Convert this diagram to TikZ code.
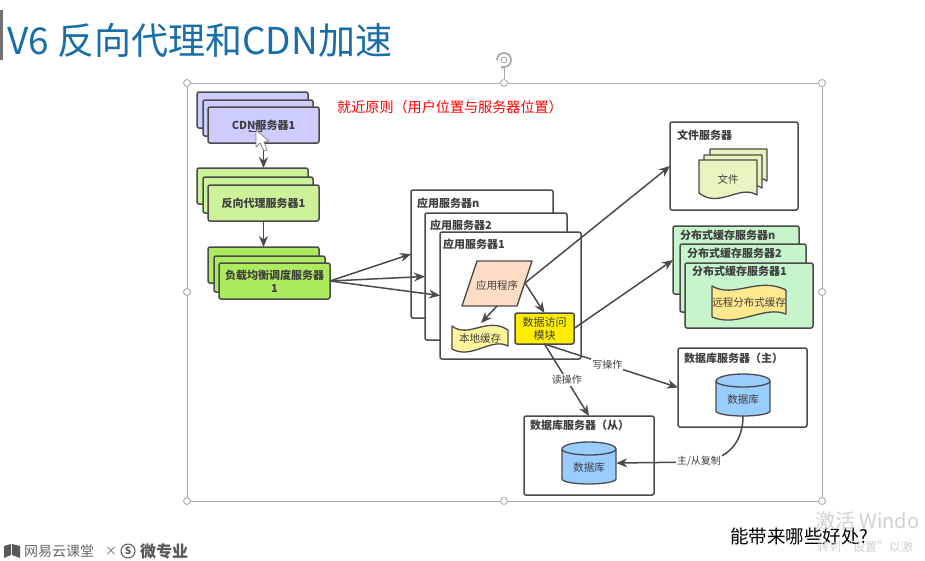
\documentclass[tikz,border=0pt]{standalone}
\usepackage{fontspec}
\setmainfont{Noto Sans CJK SC}
\usetikzlibrary{arrows.meta,calc}
\definecolor{ln}{HTML}{4A4A4A}
\definecolor{tx}{HTML}{404040}
\definecolor{cdnc}{HTML}{CCCCFF}
\definecolor{proxyc}{HTML}{CCF29A}
\definecolor{lbc}{HTML}{AEEA5E}
\definecolor{progc}{HTML}{FFDDC4}
\definecolor{cachec}{HTML}{FFF59A}
\definecolor{dac}{HTML}{FFEE00}
\definecolor{docc}{HTML}{E6F5C0}
\definecolor{distc}{HTML}{C6F5CC}
\definecolor{remc}{HTML}{FFE88E}
\definecolor{dbc}{HTML}{99CCFF}
\definecolor{framec}{HTML}{ABABAB}
\definecolor{titlec}{HTML}{1A6EA8}
\tikzset{
  boxs/.style={draw=ln,line width=1.5pt,rounded corners=2pt,inner sep=0pt,outer sep=0pt,text=tx,align=center,font=\fontsize{11}{13}\selectfont\bfseries},
  hd/.style={anchor=west,inner sep=0pt,text=tx,font=\fontsize{11}{13}\selectfont\bfseries},
  inner/.style={inner sep=0pt,text=tx,font=\fontsize{10.5}{12.5}\selectfont},
  arr/.style={draw=ln,line width=1.5pt,-{Stealth[length=11pt,width=9pt]}},
  lbl/.style={fill=white,inner sep=1pt,text=tx,font=\fontsize{10}{11}\selectfont},
  hand/.style={circle,draw=framec,fill=white,line width=.9pt,minimum size=7pt,inner sep=0pt},
  shape line/.style={draw=ln,line width=1.3pt,line join=round},
}
% name, x1, y1, x2, y2, fill, text
\newcommand{\bx}[7]{\node[boxs,fill=#6,minimum width={(#4-#2)*1pt},minimum height={(#5-#3)*1pt}] (#1) at ({(#2+#4)/2},{(#3+#5)/2}) {#7};}
% tape shape: x1, y1, x2, y2, fill
\newcommand{\tape}[5]{\draw[shape line,fill=#5] (#1,#2+1) .. controls ({#1+(#3-#1)*.3},#2+14) and ({#1+(#3-#1)*.62},#2-9) .. (#3,#2+5) -- (#3,#4-6) .. controls ({#1+(#3-#1)*.7},#4-15) and ({#1+(#3-#1)*.35},#4+8) .. (#1,#4-3) -- cycle;}
% document shape: x1, y1, x2, y2, fill
\newcommand{\docu}[5]{\draw[shape line,fill=#5] (#1,#2) -- (#3,#2) -- (#3,#4-5) .. controls ({#1+(#3-#1)*.7},#4-16) and ({#1+(#3-#1)*.35},#4+9) .. (#1,#4-7) -- cycle;}
% cylinder: name, x1, y1, x2, y2, text
\newcommand{\cyl}[6]{%
  \draw[shape line,fill=dbc] (#2,#3+7) arc[start angle=180,end angle=0,x radius={(#4-#2)/2*1pt},y radius=7pt] -- (#4,#5-5) arc[start angle=0,end angle=-180,x radius={(#4-#2)/2*1pt},y radius=5pt] -- cycle;
  \draw[shape line] (#2,#3+7) arc[start angle=180,end angle=360,x radius={(#4-#2)/2*1pt},y radius=6pt];
  \node[inner,minimum width={(#4-#2)*1pt},minimum height={(#5-#3)*1pt}] (#1) at ({(#2+#4)/2},{(#3+#5)/2}) {};
  \node[inner] (#1t) at ({(#2+#4)/2},{(#3+#5)/2+5}) {#6};}
\begin{document}
\begin{tikzpicture}[x=1pt,y=-1pt]
\useasboundingbox (0,0) rectangle (925,560);
\fill[white] (0,0) rectangle (925,560);
% title
\fill[gray!90!black] (0,10) rectangle (3,60);
\node[anchor=west,inner sep=0pt,text=titlec,font=\fontsize{37}{42}\selectfont] (title) at (7,40) {V6 反向代理和CDN加速};
% selection frame
\draw[framec,line width=.9pt] (187,83) rectangle (822,501);
\node[hand] (h1) at (187,83) {};
\node[hand] (h2) at (504,83) {};
\node[hand] (h3) at (822,83) {};
\node[hand] (h4) at (187,292) {};
\node[hand] (h5) at (822,292) {};
\node[hand] (h6) at (187,501) {};
\node[hand] (h7) at (504,501) {};
\node[hand] (h8) at (822,501) {};
\node[circle,minimum size=14pt,inner sep=0pt] (rot) at (504,60) {};
\draw[framec,line width=.9pt] (rot.south) -- (h2.north);
\draw[framec,line width=1.8pt,-{Latex[length=3.5pt,width=4pt]}] (497,60) arc[start angle=180,end angle=-120,radius=7pt];
\draw[framec,line width=.9pt] (504,60) circle[radius=3pt];
% red note
\node[anchor=west,inner sep=0pt,text=red,font=\fontsize{14.1}{15}\selectfont] (note) at (337,107) {就近原则（用户位置与服务器位置）};
% left stacks
\bx{cdnb}{197}{92}{308}{128}{cdnc}{}
\bx{cdnm}{203}{100}{313}{136}{cdnc}{}
\bx{cdn}{208}{107}{319}{143}{cdnc}{CDN服务器1}
\bx{proxyb}{197}{168}{308}{204}{proxyc}{}
\bx{proxym}{203}{177}{313}{213}{proxyc}{}
\bx{proxy}{208}{185}{319}{221}{proxyc}{反向代理服务器1}
\bx{lbb}{208}{247}{319}{283}{lbc}{}
\bx{lbm}{214}{256}{325}{292}{lbc}{}
\bx{lb}{219}{263}{330}{299}{lbc}{负载均衡调度服务器\\1}
% app servers
\bx{appn}{411}{190}{553}{318}{white}{}
\node[hd] (appnt) at (417,203) {应用服务器n};
\bx{app2}{425}{213}{567}{340}{white}{}
\node[hd] (app2t) at (430,225) {应用服务器2};
\bx{app1}{440}{232}{581}{359}{white}{}
\node[hd] (app1t) at (443,244) {应用服务器1};
\draw[shape line,fill=progc] (477,261) -- (532,261) -- (517,306) -- (462,306) -- cycle;
\node[inner] (prog) at (497,285) {应用程序};
\coordinate (progE) at (525,283);
\coordinate (progS) at (497,306);
\tape{452}{325}{508}{352}{cachec}
\node[inner] (cache) at (480,339) {本地缓存};
\coordinate (cacheN) at (481,323);
\bx{data}{515}{313}{574}{344}{dac}{\mdseries 数据访问\\\mdseries 模块}
% file server
\bx{file}{670}{122}{798}{210}{white}{}
\node[hd] (filet) at (677,135) {文件服务器};
\docu{710}{149}{767}{186}{docc}
\docu{704}{155}{762}{193}{docc}
\docu{699}{160}{757}{200}{docc}
\node[inner] (doct) at (728,179) {文件};
% distributed cache
\bx{distn}{673}{226}{799}{294}{distc}{}
\node[hd] (distnt) at (680,235) {分布式缓存服务器n};
\bx{dist2}{680}{244}{806}{312}{distc}{}
\node[hd] (dist2t) at (687,253) {分布式缓存服务器2};
\bx{dist1}{685}{263}{813}{328}{distc}{}
\node[hd] (dist1t) at (692,271) {分布式缓存服务器1};
\tape{712}{285}{786}{320}{remc}
\node[inner] (rem) at (749,303) {远程分布式缓存};
% databases
\bx{dbm}{678}{348}{807}{427}{white}{}
\node[hd] (dbmt) at (684,358) {数据库服务器（主）};
\cyl{cylm}{716}{374}{770}{416}{数据库}
\bx{dbs}{524}{416}{654}{495}{white}{}
\node[hd] (dbst) at (530,425) {数据库服务器（从）};
\cyl{cyls}{562}{442}{616}{484}{数据库}
% connectors
\draw[arr] (cdn.south) -- (cdn.south |- proxyb.north);
\draw[arr] (proxy.south) -- (proxy.south |- lbb.north);
\draw[arr] (lb.east) -- (appn.west);
\draw[arr] (lb.east) -- (app2.west);
\draw[arr] (lb.east) -- (app1.west);
\draw[arr] (progE) -- (file.west);
\draw[arr] (progE) -- (data.north);
\draw[arr] (progS) -- (cacheN);
\draw[arr] (data.east) -- (distn.west);
\draw[arr] (data.south) -- node[lbl,pos=.47] (wr) {写操作} (dbm.west);
\draw[arr] (data.south) -- node[lbl,pos=.5] (rd) {读操作} (dbs.north);
\draw[arr] (cylm.south) .. controls (743,442) and (728,460) .. (699,462) -- (cyls.east);
\node[lbl] (rep) at (699,461) {主/从复制};
% cursor
\draw[ln,line width=.7pt,{Latex[length=2.5pt,width=2.5pt]}-{Latex[length=2.5pt,width=2.5pt]}] (248,131) -- (263,131);
\draw[ln,line width=.7pt,{Latex[length=2.5pt,width=2.5pt]}-] (256,122) -- (256,131);
\draw[gray,fill=white,line width=.7pt,line join=round] (256,130) -- (256,147) -- (260,143) -- (264,151) -- (267,150) -- (264,142) -- (269,141) -- cycle;
% bottom
\node[anchor=west,inner sep=0pt,font=\fontsize{18.5}{20}\selectfont,text=black] (q) at (730,536) {能带来哪些好处?};
\node[anchor=west,inner sep=0pt,font=\fontsize{20}{22}\selectfont,text=black!18] (w1) at (815,521) {激活 Windo};
\node[anchor=west,inner sep=0pt,font=\fontsize{12}{14}\selectfont,text=black!18] (w2) at (817,547) {转到“设置”以激};
\fill[black!65] (4,546) -- (11,544) -- (11,555) -- (4,558) -- cycle;
\fill[black!65] (12,544) -- (20,546) -- (20,558) -- (12,555) -- cycle;
\node[anchor=west,inner sep=0pt,font=\fontsize{14}{15}\selectfont,text=black!60] (wy) at (24,551) {网易云课堂};
\node[inner sep=0pt,font=\fontsize{12}{14}\selectfont,text=black!60] (xx) at (111,551) {×};
\node[circle,draw=black!65,line width=1pt,minimum size=14pt,inner sep=0pt,font=\fontsize{10}{10}\selectfont\bfseries,text=black!65] (ss) at (128,551) {S};
\node[anchor=west,inner sep=0pt,font=\fontsize{16}{17}\selectfont\bfseries,text=black!65] (wz) at (140,551) {微专业};
\end{tikzpicture}
\end{document}
